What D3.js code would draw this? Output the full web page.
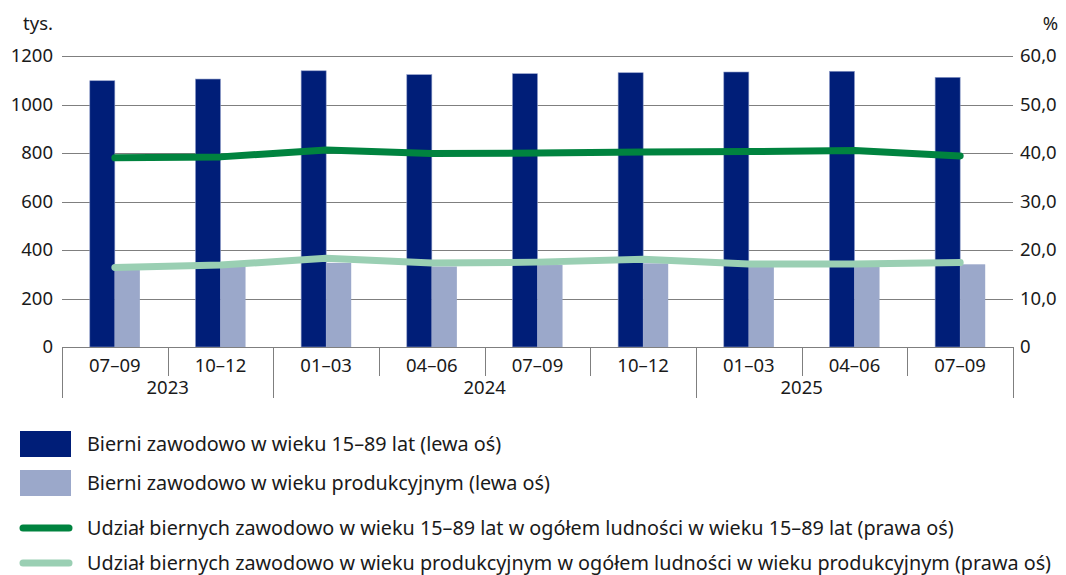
<!DOCTYPE html>
<html>
<head>
<meta charset="utf-8">
<script src="https://cdn.jsdelivr.net/npm/d3@7"></script>
<style>
  body { margin: 0; background: #fff; }
  svg text { font-family: "Noto Sans", "Open Sans", sans-serif; fill: #1a1a1a; }
</style>
</head>
<body>
<div id="chart"></div>
<script>
// quarters and years (multi level x axis)
const quarters = ["07–09", "10–12", "01–03", "04–06", "07–09", "10–12", "01–03", "04–06", "07–09"];
const years = ["2023", "2023", "2024", "2024", "2024", "2024", "2025", "2025", "2025"];
// year label sits on the left edge of this quarter (as in the source chart)
const yearLabelAt = {"2023": "10–12", "2024": "07–09", "2025": "04–06"};

// thousands (left axis)
const bierni1589 = [1098, 1105, 1139, 1123, 1127, 1131, 1134, 1137, 1112];
const bierniProd = [325, 333, 347, 332, 338, 345, 330, 330, 341];
// percent (right axis)
const udzial1589 = [39.0, 39.2, 40.6, 39.9, 40.0, 40.2, 40.3, 40.5, 39.4];
const udzialProd = [16.4, 16.9, 18.3, 17.3, 17.5, 18.1, 17.1, 17.1, 17.4];

const leftTicks = [0, 200, 400, 600, 800, 1000, 1200];
const rightTicks = [0, 10, 20, 30, 40, 50, 60];

const barLabels = ["Bierni zawodowo w wieku 15–89 lat (lewa oś)",
                   "Bierni zawodowo w wieku produkcyjnym (lewa oś)"];
const lineLabels = ["Udział biernych zawodowo w wieku 15–89 lat w ogółem ludności w wieku 15–89 lat (prawa oś)",
                    "Udział biernych zawodowo w wieku produkcyjnym w ogółem ludności w wieku produkcyjnym (prawa oś)"];

const colors = {dark: "#001E78", light: "#9BA8CA", green: "#00833F", mint: "#9ACFB3", grid: "#7f7f7f"};

const width = 1066, height = 575;
const margin = {top: 56, right: 53, bottom: 228, left: 62};
const plotBottom = height - margin.bottom;

const svg = d3.select("#chart").append("svg")
    .attr("width", width)
    .attr("height", height);

const ids = quarters.map((q, i) => years[i] + " " + q);

const x = d3.scaleBand()
    .domain(ids)
    .range([margin.left, width - margin.right]);

const x1 = d3.scaleBand()
    .domain(["a", "b"])
    .range([0, x.bandwidth()])
    .paddingOuter(1.11);

const yL = d3.scaleLinear().domain([0, 1200]).range([plotBottom, margin.top]);
const yR = d3.scaleLinear().domain([0, 60]).range([plotBottom, margin.top]);

const plFormat = d3.formatLocale({decimal: ",", thousands: " ", grouping: [3], currency: ["", " zł"]});
const fmtR = v => v === 0 ? "0" : plFormat.format(".1f")(v);

// gridlines
svg.append("g").selectAll("line")
    .data(leftTicks.filter(t => t > 0))
    .join("line")
    .attr("x1", margin.left).attr("x2", width - margin.right)
    .attr("y1", d => Math.round(yL(d)) + 0.5).attr("y2", d => Math.round(yL(d)) + 0.5)
    .attr("stroke", colors.grid).attr("stroke-width", 1);

// left axis labels
svg.append("g").selectAll("text")
    .data(leftTicks)
    .join("text")
    .attr("x", margin.left - 9)
    .attr("y", d => yL(d))
    .attr("dy", "0.35em")
    .attr("text-anchor", "end")
    .style("font-size", "18.5px")
    .text(d => d);

// right axis labels
svg.append("g").selectAll("text")
    .data(rightTicks)
    .join("text")
    .attr("x", width - margin.right + 7)
    .attr("y", d => yR(d))
    .attr("dy", "0.35em")
    .attr("text-anchor", "start")
    .style("font-size", "18.5px")
    .text(d => fmtR(d));

svg.append("text").attr("x", margin.left - 9).attr("y", 30)
    .attr("text-anchor", "end").style("font-size", "18.5px").text("tys.");
svg.append("text").attr("x", width - 8).attr("y", 30)
    .attr("text-anchor", "end").style("font-size", "18.5px").text("%");

// bars
const barData = ids.map((id, i) => ({id, a: bierni1589[i], b: bierniProd[i]}));
const groups = svg.append("g").selectAll("g")
    .data(barData)
    .join("g")
    .attr("transform", d => `translate(${x(d.id)},0)`);

groups.append("rect")
    .attr("x", x1("a")).attr("width", x1.bandwidth())
    .attr("y", d => yL(d.a)).attr("height", d => yL(0) - yL(d.a))
    .attr("fill", colors.dark).attr("stroke", "#8e9cc8").attr("stroke-width", 0.6);

groups.append("rect")
    .attr("x", x1("b")).attr("width", x1.bandwidth())
    .attr("y", d => yL(d.b)).attr("height", d => yL(0) - yL(d.b))
    .attr("fill", colors.light);

// x axis: baseline + separators
const xAxis = svg.append("g");
xAxis.append("line")
    .attr("x1", margin.left).attr("x2", width - margin.right)
    .attr("y1", plotBottom + 0.5).attr("y2", plotBottom + 0.5)
    .attr("stroke", colors.grid);

const edges = ids.map((id, i) => ({
    pos: x(id),
    yearEdge: i === 0 || years[i] !== years[i - 1]
}));
edges.push({pos: x(ids[ids.length - 1]) + x.bandwidth(), yearEdge: true});

xAxis.selectAll(".sep")
    .data(edges)
    .join("line")
    .attr("class", "sep")
    .attr("x1", d => Math.round(d.pos) + 0.5).attr("x2", d => Math.round(d.pos) + 0.5)
    .attr("y1", plotBottom)
    .attr("y2", d => d.yearEdge ? plotBottom + 51 : plotBottom + 29)
    .attr("stroke", colors.grid);

xAxis.selectAll(".qlab")
    .data(ids)
    .join("text")
    .attr("class", "qlab")
    .attr("x", d => x(d) + x.bandwidth() / 2)
    .attr("y", plotBottom + 25)
    .attr("text-anchor", "middle")
    .style("font-size", "18.5px")
    .text((d, i) => quarters[i]);

const uniqueYears = Array.from(new Set(years));
xAxis.selectAll(".ylab")
    .data(uniqueYears)
    .join("text")
    .attr("class", "ylab")
    .attr("x", yr => x(yr + " " + yearLabelAt[yr]))
    .attr("y", plotBottom + 47)
    .attr("text-anchor", "middle")
    .style("font-size", "18.5px")
    .text(yr => yr);

// lines
const lineGen = d3.line()
    .x(d => x(d.id) + x.bandwidth() / 2)
    .y(d => yR(d.v));

[[udzialProd, colors.mint], [udzial1589, colors.green]].forEach(([vals, col]) => {
    svg.append("path")
        .datum(ids.map((id, i) => ({id, v: vals[i]})))
        .attr("d", lineGen)
        .attr("fill", "none")
        .attr("stroke", col)
        .attr("stroke-width", 7)
        .attr("stroke-linecap", "round")
        .attr("stroke-linejoin", "round");
});

// legend
const legend = svg.append("g");
const barLegY = [431, 470];
barLabels.forEach((lab, i) => {
    legend.append("rect")
        .attr("x", 20).attr("y", barLegY[i]).attr("width", 51).attr("height", 26)
        .attr("fill", i === 0 ? colors.dark : colors.light);
    legend.append("text")
        .attr("x", 87).attr("y", barLegY[i] + 13).attr("dy", "0.35em")
        .style("font-size", "19.8px").text(lab);
});
const lineLegY = [528, 563];
lineLabels.forEach((lab, i) => {
    legend.append("line")
        .attr("x1", 23).attr("x2", 69)
        .attr("y1", lineLegY[i]).attr("y2", lineLegY[i])
        .attr("stroke", i === 0 ? colors.green : colors.mint)
        .attr("stroke-width", 7).attr("stroke-linecap", "round");
    legend.append("text")
        .attr("x", 87).attr("y", lineLegY[i]).attr("dy", "0.35em")
        .style("font-size", "19.8px").text(lab);
});
</script>
</body>
</html>
